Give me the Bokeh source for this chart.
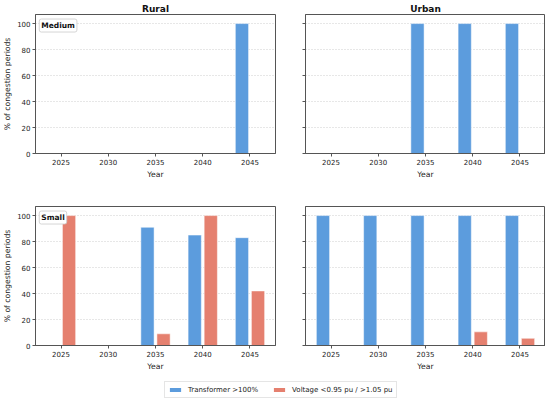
from bokeh.plotting import figure
from bokeh.models import (ColumnDataSource, Range1d, FixedTicker, Label, Legend,
                          LegendItem, CustomLabelingPolicy)
from bokeh.transform import dodge
from bokeh.layouts import column, row
from bokeh.embed import file_html
from bokeh.resources import INLINE

years = [2025, 2030, 2035, 2040, 2045]
rural_medium_transformer = [0, 0, 0, 0, 100]
rural_medium_voltage = [0, 0, 0, 0, 0]
urban_medium_transformer = [0, 0, 100, 100, 100]
urban_medium_voltage = [0, 0, 0, 0, 0]
rural_small_transformer = [0, 0, 91, 85, 83]
rural_small_voltage = [100, 0, 9, 100, 42]
urban_small_transformer = [100, 100, 100, 100, 100]
urban_small_voltage = [0, 0, 0, 10.5, 5.5]
y_ticks = [0, 20, 40, 60, 80, 100]
series_names = ["Transformer >100%", "Voltage <0.95 pu / >1.05 pu"]

BLUE = "#5c9cdd"
RED = "#e5806f"
FONT = "DejaVu Sans"
FW, FH = 240, 139


def make_panel(trans, volt, title=None, tag=None, left=True, top=True):
    kw = dict(frame_width=FW, frame_height=FH, output_backend="svg",
              toolbar_location=None, x_range=Range1d(2022.3, 2047.7),
              y_range=Range1d(0, 107))
    p = figure(**kw)
    p.min_border_left = 28 if left else 16
    p.min_border_right = 9 if left else 0
    p.min_border_top = 10 if top else 1
    p.min_border_bottom = 52 if top else 25
    p.background_fill_color = "white"
    p.border_fill_color = "white"
    p.outline_line_color = "#555555"
    p.outline_line_width = 1
    src = ColumnDataSource(dict(year=years, t=trans, v=volt))
    p.vbar(x=dodge("year", -0.85), top="t", width=1.4, source=src,
           fill_color=BLUE, line_color="white", line_width=0.5)
    p.vbar(x=dodge("year", 0.85), top="v", width=1.4, source=src,
           fill_color=RED, line_color="white", line_width=0.5)
    p.xaxis.ticker = FixedTicker(ticks=years)
    p.yaxis.ticker = FixedTicker(ticks=y_ticks)
    p.xgrid.visible = False
    p.ygrid.ticker = FixedTicker(ticks=y_ticks)
    p.ygrid.grid_line_color = "#c8c8c8"
    p.ygrid.grid_line_dash = "1 2"
    p.ygrid.grid_line_width = 0.9
    for ax in (p.xaxis[0], p.yaxis[0]):
        ax.axis_line_color = "#555555"
        ax.major_tick_line_color = "#555555"
        ax.minor_tick_line_color = None
        ax.major_tick_out = 3
        ax.major_tick_in = 0
        ax.major_label_standoff = 2
        ax.axis_label_standoff = 2
        ax.major_label_text_font = FONT
        ax.major_label_text_font_size = "7px"
        ax.major_label_text_color = "#222222"
        ax.axis_label_text_font = FONT
        ax.axis_label_text_font_size = "7.7px"
        ax.axis_label_text_font_style = "normal"
        ax.axis_label_text_color = "#222222"
    p.xaxis.axis_label = "Year"
    if left:
        p.yaxis.axis_label = "% of congestion periods"
    else:
        p.yaxis.major_label_policy = CustomLabelingPolicy(code="return []")
    if title:
        p.title.text = title
        p.title.align = "center"
        p.title.text_font = FONT
        p.title.text_font_size = "9px"
        p.title.text_font_style = "bold"
        p.title.text_color = "#111111"
        p.title.standoff = 2
        p.title.offset = 0
    if tag:
        lab = Label(x=2022.7, y=103.5, text=tag, anchor="top_left",
                    text_font=FONT, text_font_size="7.5px",
                    text_font_style="bold", text_color="#111111",
                    background_fill_color="white",
                    border_line_color="#cccccc", border_line_width=0.8,
                    padding=2, border_radius=2)
        p.add_layout(lab)
    return p


p1 = make_panel(rural_medium_transformer, rural_medium_voltage,
                title="Rural", tag="Medium", left=True, top=True)
p2 = make_panel(urban_medium_transformer, urban_medium_voltage,
                title="Urban", left=False, top=True)
p3 = make_panel(rural_small_transformer, rural_small_voltage,
                tag="Small", left=True, top=False)
p4 = make_panel(urban_small_transformer, urban_small_voltage,
                left=False, top=False)

leg = figure(width=534, height=26, output_backend="svg", toolbar_location=None,
             x_range=Range1d(0, 1), y_range=Range1d(0, 1),
             x_axis_type=None, y_axis_type=None, min_border=0)
leg.outline_line_color = None
leg.xgrid.visible = False
leg.ygrid.visible = False
r1 = leg.vbar(x=[5], top=[1], width=1, fill_color=BLUE, line_color=None)
r2 = leg.vbar(x=[5], top=[1], width=1, fill_color=RED, line_color=None)
legend = Legend(items=[LegendItem(label=series_names[0], renderers=[r1]),
                       LegendItem(label=series_names[1], renderers=[r2])],
                orientation="horizontal", location=(164, 1))
legend.label_text_font = FONT
legend.label_text_font_size = "7px"
legend.label_text_color = "#222222"
legend.glyph_width = 14
legend.glyph_height = 5
legend.label_height = 9
legend.label_width = 10
legend.label_standoff = 6
legend.spacing = 14
legend.padding = 3
legend.margin = 0
legend.border_line_color = "#cccccc"
legend.border_line_width = 0.8
legend.background_fill_color = "white"
leg.add_layout(legend)

layout = column(row(p1, p2), row(p3, p4), leg)
open("out.html", "w").write(file_html(layout, INLINE))
